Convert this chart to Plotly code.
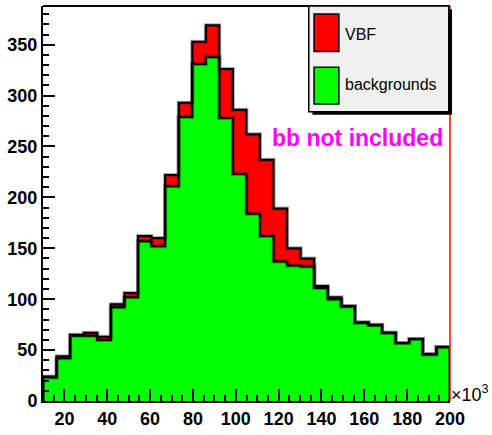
import numpy as np
import plotly.graph_objects as go

# ---- data (x in units of 10^3) ----
x_min = 10.0
x_max = 200.0
n_bins = 30
background = [23, 42, 64, 64, 60, 92, 102, 157, 152, 211,
              279, 331, 338, 278, 223, 184, 162, 137, 133, 132,
              111, 100, 93, 77, 74.5, 67, 57, 61, 46, 53]
vbf = [1, 2, 1, 3, 3, 3, 4, 5, 8, 11,
       14, 22, 31, 48, 63, 78, 75, 52, 17, 8,
       2, 2, 0, 0, 0.5, 0, 0, 0, 0, 0]
x_ticks = [20, 40, 60, 80, 100, 120, 140, 160, 180, 200]
y_ticks = [0, 50, 100, 150, 200, 250, 300, 350]

edges = np.linspace(x_min, x_max, n_bins + 1)
centers = 0.5 * (edges[:-1] + edges[1:])
width = edges[1] - edges[0]
bkg = np.array(background, dtype=float)
total = bkg + np.array(vbf, dtype=float)

fig = go.Figure()

fig.add_trace(go.Bar(x=centers, y=total, width=width, marker=dict(color="#ff0000", line=dict(width=0)),
                     name="VBF", showlegend=False))
fig.add_trace(go.Bar(x=centers, y=bkg, width=width, marker=dict(color="#00ff00", line=dict(width=0)),
                     name="backgrounds", showlegend=False))


def step(vals):
    xs = [edges[0]] + list(edges[:-1]) + [edges[-1], edges[-1]]
    ys = [0] + list(vals) + [vals[-1], 0]
    return xs, ys


for vals in (total, bkg):
    xs, ys = step(vals)
    fig.add_trace(go.Scatter(x=xs, y=ys, mode="lines", line=dict(color="rgba(0,0,0,0.3)", width=4, shape="hv"),
                             showlegend=False, hoverinfo="skip"))
    fig.add_trace(go.Scatter(x=xs, y=ys, mode="lines", line=dict(color="black", width=2, shape="hv"),
                             showlegend=False, hoverinfo="skip"))

tickfont = dict(family="Liberation Sans, Arial, sans-serif", size=18, color="black", weight="bold")

fig.update_layout(
    barmode="overlay",
    bargap=0,
    width=492, height=435,
    margin=dict(l=43, r=42, t=6, b=22),
    paper_bgcolor="white",
    plot_bgcolor="white",
    showlegend=False,
    xaxis=dict(range=[x_min, x_max], tickvals=x_ticks, ticks="inside", ticklen=12, tickwidth=1.5,
               tickcolor="black", showgrid=False, zeroline=False, showline=True, linecolor="black",
               linewidth=2, tickfont=tickfont,
               minor=dict(dtick=5, tick0=0, ticks="inside", ticklen=6, tickwidth=1.5, tickcolor="black",
                          showgrid=False)),
    yaxis=dict(range=[0, 388], tickvals=y_ticks, ticks="inside", ticklen=12, tickwidth=1.5,
               tickcolor="black", showgrid=False, zeroline=False, showline=True, linecolor="black",
               linewidth=2, tickfont=tickfont,
               minor=dict(dtick=10, tick0=0, ticks="inside", ticklen=6, tickwidth=1.5, tickcolor="black",
                          showgrid=False)),
)

# frame: top black, right red
fig.add_shape(type="line", xref="paper", yref="paper", x0=0, x1=1, y0=1, y1=1,
              line=dict(color="black", width=2), layer="above")
fig.add_shape(type="line", xref="paper", yref="paper", x0=1, x1=1, y0=0, y1=1,
              line=dict(color="#ff0000", width=1.5), layer="above")

# legend box (drawn manually)
fig.add_shape(type="rect", xref="paper", yref="paper", x0=0.662, x1=1.005, y0=0.725, y1=0.992,
              fillcolor="black", line=dict(width=0), layer="above")
fig.add_shape(type="rect", xref="paper", yref="paper", x0=0.653, x1=0.997, y0=0.732, y1=1.0,
              fillcolor="#f0f0f0", line=dict(color="black", width=1.5), layer="above")
fig.add_shape(type="rect", xref="paper", yref="paper", x0=0.666, x1=0.727, y0=0.885, y1=0.980,
              fillcolor="#ff0000", line=dict(color="black", width=1.5), layer="above")
fig.add_shape(type="rect", xref="paper", yref="paper", x0=0.666, x1=0.727, y0=0.752, y1=0.845,
              fillcolor="#00ff00", line=dict(color="black", width=1.5), layer="above")

legfont = dict(family="Liberation Sans, Arial, sans-serif", size=16, color="black")
fig.add_annotation(xref="paper", yref="paper", x=0.738, y=0.9275, text="VBF", showarrow=False,
                   xanchor="left", yanchor="middle", font=legfont)
fig.add_annotation(xref="paper", yref="paper", x=0.738, y=0.801, text="backgrounds", showarrow=False,
                   xanchor="left", yanchor="middle", font=legfont)

fig.add_annotation(xref="paper", yref="paper", x=0.558, y=0.666, text="bb not included", showarrow=False,
                   xanchor="left", yanchor="middle",
                   font=dict(family="Liberation Sans, Arial, sans-serif", size=23, color="#ff00ff",
                             weight="bold"))

fig.add_annotation(xref="paper", yref="paper", x=0.998, y=0.018, text="×10<sup>3</sup>", showarrow=False,
                   xanchor="left", yanchor="middle",
                   font=dict(family="Liberation Sans, Arial, sans-serif", size=18, color="black"))

fig.write_html("out.html")
